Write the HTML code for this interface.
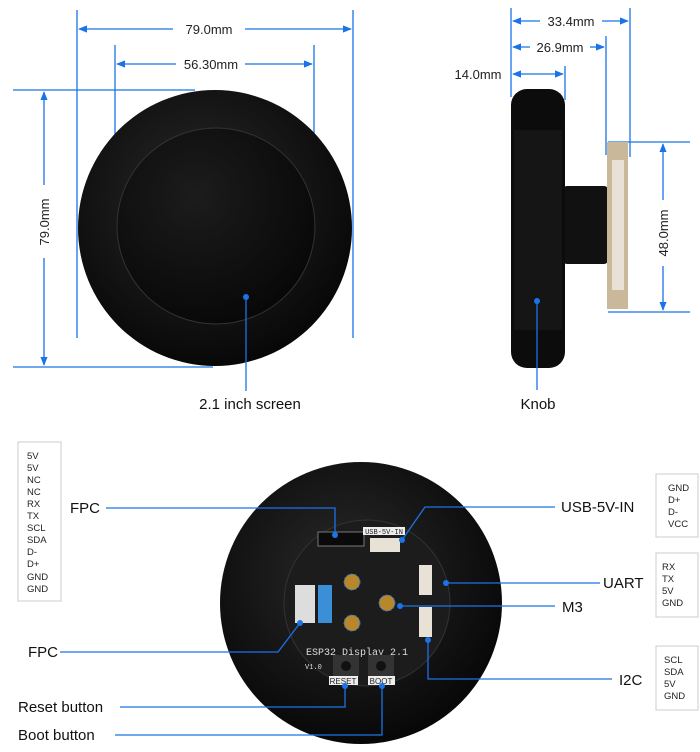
<!DOCTYPE html>
<html><head><meta charset="utf-8"><style>
html,body{margin:0;padding:0;background:#fff;}
svg{display:block;font-family:"Liberation Sans",sans-serif;}
</style></head><body>
<svg width="700" height="752" viewBox="0 0 700 752" xmlns="http://www.w3.org/2000/svg">
<defs>
<marker id="a" viewBox="0 0 10 10" refX="9" refY="5" markerWidth="7" markerHeight="7" orient="auto-start-reverse"><path d="M0,1 L10,5 L0,9 Z" fill="#1a73e8"/></marker>
<radialGradient id="disc" cx="45%" cy="40%" r="65%"><stop offset="0" stop-color="#2a2a2a"/><stop offset="1" stop-color="#050505"/></radialGradient>
<radialGradient id="scr" cx="40%" cy="35%" r="70%"><stop offset="0" stop-color="#1c1c1c"/><stop offset="1" stop-color="#070707"/></radialGradient>
</defs>
<g stroke="#1a73e8" stroke-width="1.3" fill="none">
<!-- front dims -->
<line x1="77" y1="10" x2="77" y2="338"/><line x1="353" y1="10" x2="353" y2="338"/>
<line x1="79" y1="29" x2="173" y2="29" marker-start="url(#a)"/><line x1="245" y1="29" x2="351" y2="29" marker-end="url(#a)"/>
<line x1="115" y1="45" x2="115" y2="227"/><line x1="314" y1="45" x2="314" y2="227"/>
<line x1="117" y1="64" x2="176" y2="64" marker-start="url(#a)"/><line x1="245" y1="64" x2="312" y2="64" marker-end="url(#a)"/>
<line x1="13" y1="90" x2="195" y2="90"/><line x1="13" y1="367" x2="213" y2="367"/>
<line x1="44" y1="92" x2="44" y2="185" marker-start="url(#a)"/><line x1="44" y1="258" x2="44" y2="365" marker-end="url(#a)"/>
<!-- side dims -->
<line x1="511" y1="8" x2="511" y2="97"/><line x1="630" y1="8" x2="630" y2="157"/><line x1="606" y1="36" x2="606" y2="155"/><line x1="565" y1="66" x2="565" y2="100"/>
<line x1="513" y1="21" x2="540" y2="21" marker-start="url(#a)"/><line x1="602" y1="21" x2="628" y2="21" marker-end="url(#a)"/>
<line x1="513" y1="47" x2="530" y2="47" marker-start="url(#a)"/><line x1="590" y1="47" x2="604" y2="47" marker-end="url(#a)"/>
<line x1="513" y1="74" x2="563" y2="74" marker-start="url(#a)" marker-end="url(#a)"/>
<line x1="608" y1="142" x2="690" y2="142"/><line x1="608" y1="312" x2="690" y2="312"/>
<line x1="663" y1="144" x2="663" y2="200" marker-start="url(#a)"/><line x1="663" y1="266" x2="663" y2="310" marker-end="url(#a)"/>
</g>
<g font-size="13" fill="#222">
<text x="209" y="34" text-anchor="middle">79.0mm</text>
<text x="211" y="69" text-anchor="middle">56.30mm</text>
<text transform="translate(49,222) rotate(-90)" text-anchor="middle">79.0mm</text>
<text x="571" y="26" text-anchor="middle">33.4mm</text>
<text x="560" y="52" text-anchor="middle">26.9mm</text>
<text x="478" y="79" text-anchor="middle">14.0mm</text>
<text transform="translate(668,233) rotate(-90)" text-anchor="middle">48.0mm</text>
</g>
<!-- front disc -->
<ellipse cx="215" cy="228" rx="137" ry="138" fill="url(#disc)"/>
<ellipse cx="216" cy="226" rx="99" ry="98" fill="url(#scr)" stroke="#333" stroke-width="1"/>
<!-- side -->
<rect x="563" y="186" width="45" height="78" rx="4" fill="#111"/>
<rect x="607" y="142" width="21" height="167" fill="#c9b89a"/>
<rect x="612" y="160" width="12" height="130" fill="#e8e2d6"/>
<rect x="511" y="89" width="54" height="279" rx="16" fill="#0c0c0c"/>
<rect x="514" y="130" width="48" height="200" fill="#151515"/>
<!-- dots and callout lines top -->
<g stroke="#1a73e8" stroke-width="1.3" fill="none">
<line x1="246" y1="297" x2="246" y2="391"/><line x1="537" y1="301" x2="537" y2="390"/>
</g>
<circle cx="246" cy="297" r="3" fill="#1a73e8"/><circle cx="537" cy="301" r="3" fill="#1a73e8"/>
<text x="250" y="409" font-size="15" text-anchor="middle" fill="#111">2.1 inch screen</text>
<text x="538" y="409" font-size="15" text-anchor="middle" fill="#111">Knob</text>
<!-- bottom disc -->
<circle cx="361" cy="603" r="141" fill="url(#disc)"/>
<circle cx="367" cy="603" r="83" fill="#1c1c1c" stroke="#333"/>
<rect x="318" y="532" width="46" height="14" fill="#0a0a0a" stroke="#777" stroke-width="1"/>
<rect x="363" y="527" width="42" height="8" fill="#eee"/>
<text x="384" y="534" font-size="7" text-anchor="middle" fill="#222" font-family="Liberation Mono">USB-5V-IN</text>
<rect x="370" y="538" width="30" height="14" fill="#e8e2d6"/>
<rect x="419" y="565" width="13" height="30" fill="#e8e2d6"/>
<rect x="419" y="607" width="13" height="30" fill="#e8e2d6"/>
<rect x="295" y="585" width="20" height="38" fill="#ddd"/>
<rect x="318" y="585" width="14" height="38" fill="#3b8fd6"/>
<circle cx="352" cy="582" r="8" fill="#b8862b" stroke="#1a73e8" stroke-dasharray="2 2"/>
<circle cx="387" cy="603" r="8" fill="#b8862b" stroke="#1a73e8" stroke-dasharray="2 2"/>
<circle cx="352" cy="623" r="8" fill="#b8862b" stroke="#1a73e8" stroke-dasharray="2 2"/>
<text x="306" y="655" font-size="10" fill="#ddd" font-family="Liberation Mono">ESP32 Display 2.1</text>
<text x="305" y="669" font-size="7" fill="#ddd" font-family="Liberation Mono">V1.0</text>
<rect x="333" y="655" width="26" height="22" fill="#333"/><circle cx="346" cy="666" r="5" fill="#111"/>
<rect x="368" y="655" width="26" height="22" fill="#333"/><circle cx="381" cy="666" r="5" fill="#111"/>
<rect x="329" y="676" width="29" height="9" fill="#eee"/><text x="343" y="684" font-size="8" text-anchor="middle" fill="#222">RESET</text>
<rect x="368" y="676" width="27" height="9" fill="#eee"/><text x="381" y="684" font-size="8" text-anchor="middle" fill="#222">BOOT</text>
<!-- bottom callouts -->
<g stroke="#1a73e8" stroke-width="1.3" fill="none">
<polyline points="106,508 335,508 335,535"/>
<polyline points="555,507 425,507 402,540"/>
<line x1="448" y1="583" x2="600" y2="583"/>
<line x1="400" y1="606" x2="555" y2="606"/>
<polyline points="60,652 278,652 300,623"/>
<polyline points="428,640 428,679 612,679"/>
<polyline points="120,707 345,707 345,686"/>
<polyline points="115,735 382,735 382,686"/>
</g>
<g fill="#1a73e8"><circle cx="335" cy="535" r="3"/><circle cx="402" cy="540" r="3"/><circle cx="446" cy="583" r="3"/><circle cx="400" cy="606" r="3"/><circle cx="300" cy="623" r="3"/><circle cx="428" cy="640" r="3"/><circle cx="345" cy="686" r="3"/><circle cx="382" cy="686" r="3"/></g>
<g font-size="15" fill="#111">
<text x="70" y="513">FPC</text><text x="28" y="657">FPC</text>
<text x="18" y="712">Reset button</text><text x="18" y="740">Boot button</text>
<text x="561" y="512">USB-5V-IN</text><text x="603" y="588">UART</text>
<text x="562" y="612">M3</text><text x="619" y="685">I2C</text>
</g>
<!-- pin boxes -->
<g fill="none" stroke="#ccc"><rect x="18" y="442" width="43" height="159"/><rect x="656" y="474" width="42" height="63"/><rect x="656" y="553" width="42" height="64"/><rect x="656" y="646" width="42" height="64"/></g>
<g font-size="9.5" fill="#222">
<text x="27" y="459">5V</text><text x="27" y="471">5V</text><text x="27" y="483">NC</text><text x="27" y="495">NC</text><text x="27" y="507">RX</text><text x="27" y="519">TX</text><text x="27" y="531">SCL</text><text x="27" y="543">SDA</text><text x="27" y="555">D-</text><text x="27" y="567">D+</text><text x="27" y="580">GND</text><text x="27" y="592">GND</text>
<text x="668" y="491">GND</text><text x="668" y="503">D+</text><text x="668" y="515">D-</text><text x="668" y="527">VCC</text>
<text x="662" y="570">RX</text><text x="662" y="582">TX</text><text x="662" y="594">5V</text><text x="662" y="606">GND</text>
<text x="664" y="663">SCL</text><text x="664" y="675">SDA</text><text x="664" y="687">5V</text><text x="664" y="699">GND</text>
</g>
</svg>
</body></html>
